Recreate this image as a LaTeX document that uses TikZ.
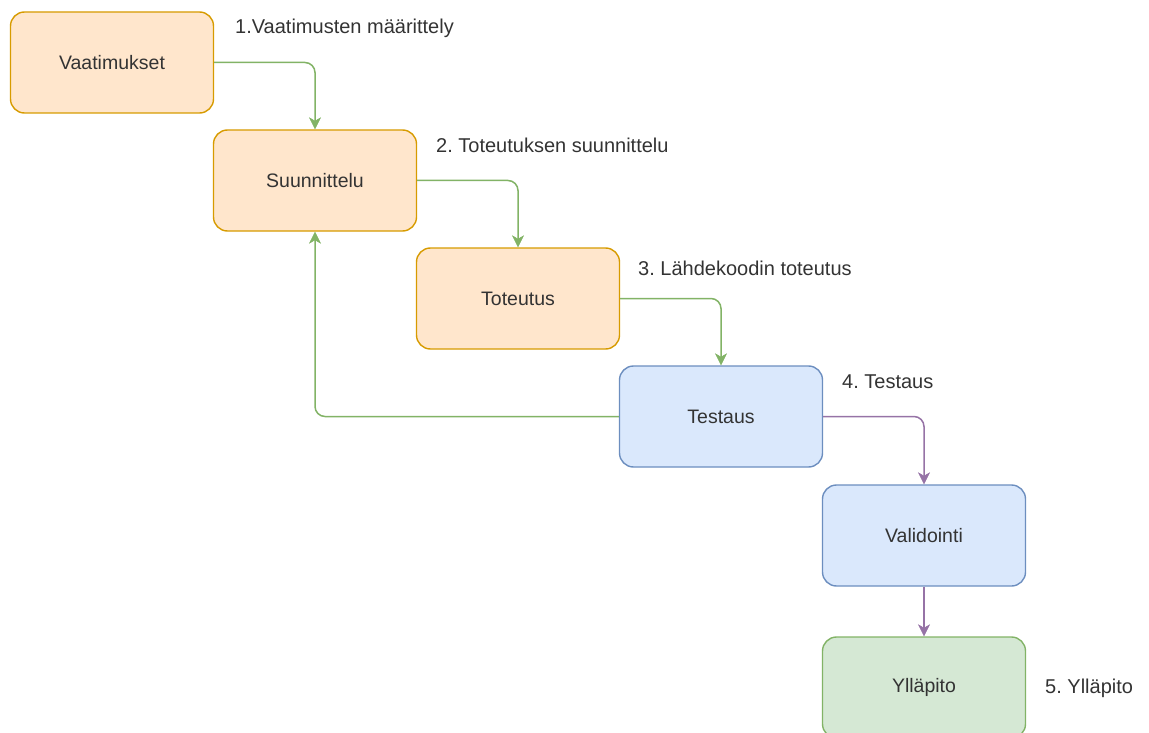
\documentclass[tikz,border=0pt]{standalone}
\usepackage{fontspec}
\setmainfont{Liberation Sans}
\usetikzlibrary{arrows.meta}
\definecolor{orfill}{HTML}{FFE6CC}
\definecolor{ordraw}{HTML}{D79B00}
\definecolor{blfill}{HTML}{DAE8FC}
\definecolor{bldraw}{HTML}{6C8EBF}
\definecolor{grfill}{HTML}{D5E8D4}
\definecolor{grdraw}{HTML}{82B366}
\definecolor{pudraw}{HTML}{9673A6}
\definecolor{txt}{HTML}{333333}
\frenchspacing
\tikzset{
  box/.style={draw, rounded corners=14pt, line width=1.4pt, minimum width=203pt, minimum height=101pt, inner sep=0pt, font=\fontsize{19.5}{22}\selectfont, text=txt},
  orbox/.style={box, fill=orfill, draw=ordraw},
  blbox/.style={box, fill=blfill, draw=bldraw},
  grbox/.style={box, fill=grfill, draw=grdraw},
  lbl/.style={anchor=west, inner sep=0pt, font=\fontsize{20}{22}\selectfont, text=txt},
  conn/.style={line width=1.5pt, rounded corners=10pt, -{Stealth[length=12pt,width=12pt,inset=3.5pt,line width=0.5pt]}},
  gconn/.style={conn, draw=grdraw},
  pconn/.style={conn, draw=pudraw}
}
\begin{document}
\begin{tikzpicture}[x=1pt,y=-1pt]
\useasboundingbox (0,0) rectangle (1149,733);
\node[orbox] (v) at (112,62.5) {Vaatimukset};
\node[orbox] (s) at (315,180.5) {Suunnittelu};
\node[orbox] (t) at (518,298.5) {Toteutus};
\node[blbox] (te) at (721,416.5) {Testaus};
\node[blbox] (va) at (924,535.5) {Validointi};
\node[grbox] (y) at (924,687.5) {Ylläpito};
\node[lbl] (l1) at (235,28) {1.Vaatimusten määrittely};
\node[lbl] (l2) at (436,145) {2. Toteutuksen suunnittelu};
\node[lbl] (l3) at (638,268) {3. Lähdekoodin toteutus};
\node[lbl] (l4) at (842,382) {4. Testaus};
\node[lbl] (l5) at (1045,688) {5. Ylläpito};
\draw[gconn] (v.east) -| (s.north);
\draw[gconn] (s.east) -| (t.north);
\draw[gconn] (t.east) -| (te.north);
\draw[gconn] (te.west) -| (s.south);
\draw[pconn] (te.east) -| (va.north);
\draw[pconn] (va.south) -- (y.north);
\end{tikzpicture}
\end{document}
